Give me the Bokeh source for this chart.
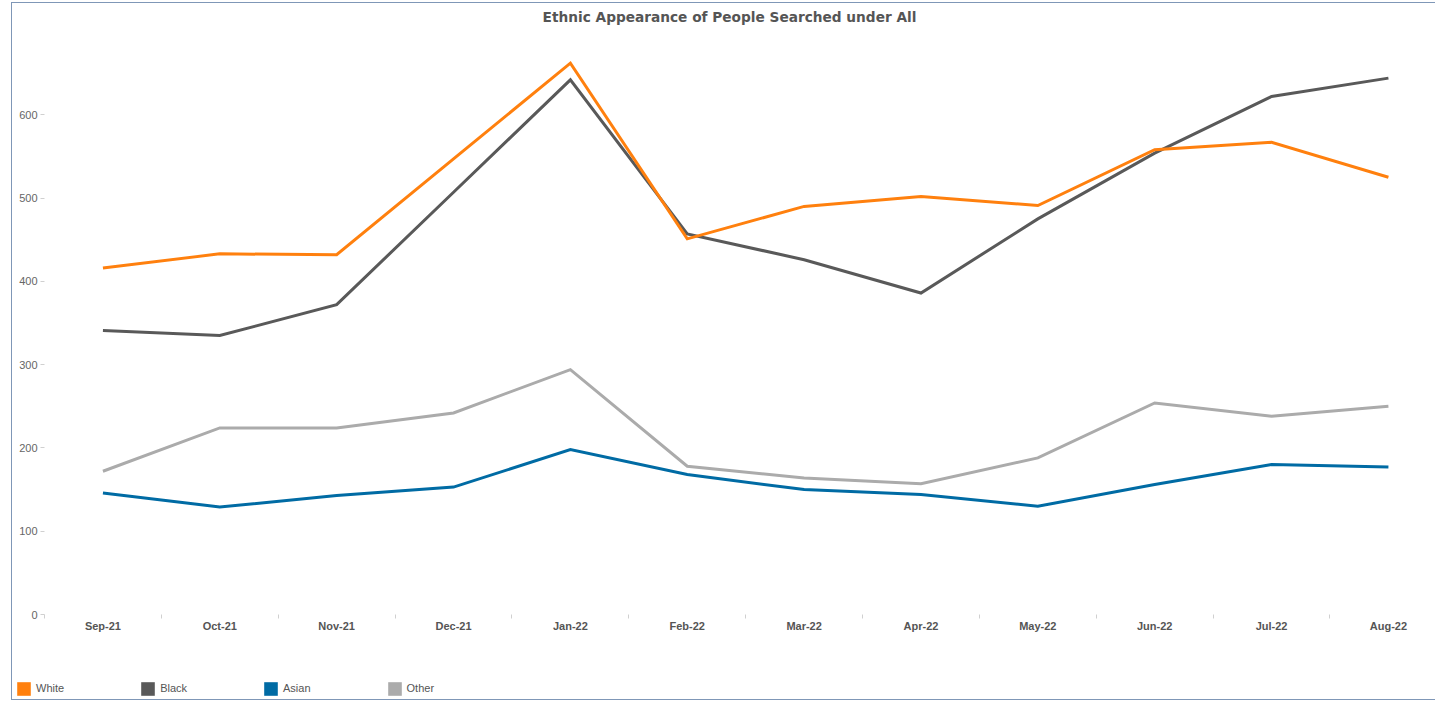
from bokeh.plotting import figure
from bokeh.models import FixedTicker, Legend, LegendItem, Range1d, Label
from bokeh.layouts import column
from bokeh.embed import file_html
from bokeh.resources import INLINE

title_text = "Ethnic Appearance of People Searched under All"
months = ["Sep-21", "Oct-21", "Nov-21", "Dec-21", "Jan-22", "Feb-22",
          "Mar-22", "Apr-22", "May-22", "Jun-22", "Jul-22", "Aug-22"]
white = [416, 433, 432, 547, 662, 451, 490, 502, 491, 558, 567, 525]
black = [341, 335, 372, 507, 642, 457, 426, 386, 475, 554, 622, 644]
asian = [146, 129, 143, 153, 198, 168, 150, 144, 130, 156, 180, 177]
other = [172, 224, 224, 242, 294, 178, 164, 157, 188, 254, 238, 250]
y_ticks = [0, 100, 200, 300, 400, 500, 600]

series_names = ["White", "Black", "Asian", "Other"]
series_values = [white, black, asian, other]
series_colors = ["#FF800E", "#595959", "#006BA4", "#ABABAB"]

x = list(range(len(months)))


def strip(height):
    f = figure(width=1424, height=height, output_backend="svg", toolbar_location=None,
               x_range=Range1d(0, 1), y_range=Range1d(0, 1),
               x_axis_location=None, y_axis_location=None,
               min_border_left=33, min_border_right=5, min_border_top=0, min_border_bottom=0)
    f.outline_line_color = None
    f.border_fill_color = None
    f.background_fill_color = None
    f.xgrid.visible = False
    f.ygrid.visible = False
    return f


# title strip
ts = strip(29)
ts.add_layout(Label(x=685, y=15, x_units="screen", y_units="screen", text=title_text,
                    text_align="center", text_baseline="alphabetic",
                    text_font="DejaVu Sans", text_font_size="13.7px",
                    text_font_style="bold", text_color="#555555"))

p = figure(width=1424, height=611, output_backend="svg", toolbar_location=None,
           x_range=Range1d(-0.5, 11.36), y_range=Range1d(0, 700),
           min_border_left=33, min_border_right=5, min_border_top=0,
           min_border_bottom=28)
p.outline_line_color = None
p.border_fill_color = None
p.background_fill_color = None
p.xgrid.visible = False
p.ygrid.visible = False

# draw order: Other, Asian, Black, White (white on top)
for idx in [3, 2, 1, 0]:
    p.line(x, series_values[idx], line_color=series_colors[idx],
           line_width=3, line_join="miter")

p.yaxis.ticker = FixedTicker(ticks=y_ticks)
p.yaxis.axis_line_color = None
p.yaxis.major_tick_line_color = "#d0d0d0"
p.yaxis.major_tick_in = 0
p.yaxis.major_tick_out = 4
p.yaxis.minor_tick_line_color = None
p.yaxis.major_label_text_font = "Liberation Sans"
p.yaxis.major_label_text_font_size = "11px"
p.yaxis.major_label_text_color = "#666666"
p.yaxis.major_label_standoff = 3

p.xaxis.ticker = FixedTicker(ticks=x, minor_ticks=[i - 0.5 for i in range(len(months) + 1)])
p.xaxis.major_label_overrides = {i: m for i, m in enumerate(months)}
p.xaxis.axis_line_color = None
p.xaxis.major_tick_line_color = None
p.xaxis.major_tick_in = 0
p.xaxis.major_tick_out = 0
p.xaxis.minor_tick_line_color = "#d0d0d0"
p.xaxis.minor_tick_in = 0
p.xaxis.minor_tick_out = 4
p.xaxis.major_label_text_font = "Liberation Sans"
p.xaxis.major_label_text_font_size = "11px"
p.xaxis.major_label_text_font_style = "bold"
p.xaxis.major_label_text_color = "#555555"
p.xaxis.major_label_standoff = 1

# legend strip below the chart, shifted left so the swatches sit near the border
lg = strip(58)
lg.styles = {"transform": "translateX(-29px)"}

nan = float("nan")
items = []
for name, color in zip(series_names, series_colors):
    # legend swatch only: NaN geometry draws nothing in the strip itself
    sq = lg.quad(left=[nan], right=[nan], top=[nan], bottom=[nan],
                 fill_color=color, line_color=None)
    items.append(LegendItem(label=name, renderers=[sq]))

legend = Legend(items=items, orientation="horizontal", location=(0, 3.5),
                glyph_width=17, glyph_height=17, label_height=17,
                spacing=75, label_standoff=4, padding=0, margin=0,
                border_line_color=None, background_fill_alpha=0,
                label_text_font="Liberation Sans", label_text_font_size="11px",
                label_text_color="#555555", label_text_align="left")
lg.add_layout(legend, "center")

layout = column(ts, p, lg, spacing=0)
layout.styles = {"margin-left": "11px", "margin-top": "2px",
                 "box-shadow": "inset 1px 0 0 #7f97b7, inset 0 1px 0 #7f97b7, inset 0 -1px 0 #7f97b7"}

open("out.html", "w").write(file_html(layout, INLINE))
